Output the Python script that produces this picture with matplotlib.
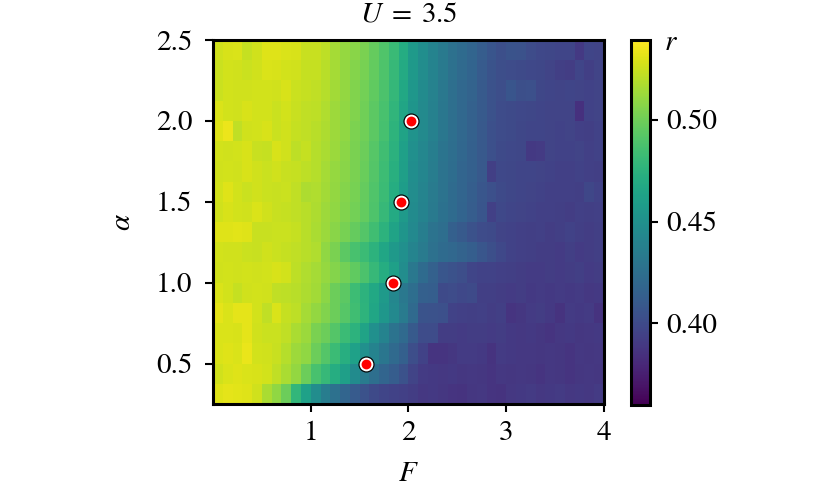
import numpy as np
import matplotlib
matplotlib.use("Agg")
import matplotlib.pyplot as plt

plt.rcParams['font.family'] = ['STIXGeneral', 'DejaVu Serif']
plt.rcParams['mathtext.fontset'] = 'stix'

# grid edges
F_edges = np.linspace(0.0, 4.0, 41)
alpha_edges = np.linspace(0.25, 2.5, 19)

# r values, rows from top (alpha = 2.4375) to bottom (alpha = 0.3125), 40 columns in F
r_rows_top_down = [
    [0.526,0.528,0.529,0.523,0.526,0.530,0.530,0.529,0.528,0.524, 0.524,0.521,0.515,0.511,0.507,0.503,0.497,0.490,0.481,0.470, 0.457,0.448,0.440,0.433,0.426,0.422,0.418,0.412,0.407,0.403, 0.406,0.405,0.401,0.399,0.398,0.397,0.397,0.390,0.397,0.396],
    [0.525,0.527,0.526,0.525,0.526,0.529,0.528,0.527,0.526,0.523, 0.523,0.520,0.515,0.510,0.506,0.502,0.496,0.489,0.480,0.469, 0.456,0.447,0.440,0.433,0.426,0.421,0.417,0.411,0.406,0.402, 0.401,0.400,0.399,0.398,0.396,0.393,0.392,0.397,0.393,0.396],
    [0.525,0.527,0.526,0.526,0.527,0.527,0.526,0.528,0.525,0.523, 0.522,0.519,0.514,0.510,0.505,0.501,0.495,0.488,0.479,0.467, 0.455,0.446,0.439,0.432,0.425,0.420,0.416,0.410,0.405,0.402, 0.407,0.403,0.404,0.398,0.397,0.396,0.397,0.396,0.395,0.396],
    [0.529,0.527,0.526,0.528,0.527,0.527,0.525,0.527,0.524,0.522, 0.521,0.518,0.513,0.509,0.505,0.500,0.494,0.487,0.477,0.465, 0.453,0.445,0.438,0.431,0.425,0.420,0.415,0.410,0.405,0.401, 0.400,0.399,0.398,0.397,0.396,0.396,0.396,0.385,0.395,0.396],
    [0.530,0.534,0.522,0.526,0.527,0.528,0.525,0.526,0.523,0.522, 0.520,0.517,0.513,0.509,0.504,0.500,0.494,0.486,0.476,0.464, 0.452,0.445,0.438,0.431,0.425,0.420,0.415,0.409,0.404,0.401, 0.400,0.398,0.397,0.397,0.396,0.395,0.396,0.394,0.393,0.395],
    [0.527,0.526,0.527,0.528,0.524,0.523,0.528,0.526,0.521,0.523, 0.519,0.516,0.512,0.508,0.503,0.499,0.492,0.484,0.474,0.461, 0.449,0.443,0.436,0.429,0.424,0.419,0.414,0.409,0.404,0.400, 0.399,0.398,0.390,0.391,0.396,0.395,0.395,0.396,0.394,0.395],
    [0.526,0.527,0.526,0.528,0.526,0.525,0.526,0.524,0.523,0.521, 0.519,0.515,0.511,0.507,0.503,0.498,0.491,0.483,0.473,0.460, 0.448,0.442,0.435,0.428,0.423,0.418,0.414,0.409,0.393,0.399, 0.398,0.397,0.397,0.396,0.395,0.394,0.394,0.395,0.394,0.393],
    [0.527,0.530,0.527,0.525,0.526,0.525,0.524,0.525,0.522,0.517, 0.518,0.514,0.510,0.506,0.502,0.497,0.490,0.482,0.471,0.459, 0.447,0.441,0.434,0.428,0.422,0.418,0.413,0.408,0.404,0.400, 0.398,0.397,0.396,0.395,0.394,0.394,0.394,0.393,0.398,0.395],
    [0.526,0.528,0.527,0.526,0.529,0.526,0.524,0.523,0.522,0.520, 0.517,0.513,0.509,0.505,0.501,0.496,0.489,0.480,0.469,0.457, 0.446,0.440,0.433,0.427,0.422,0.417,0.412,0.407,0.394,0.399, 0.397,0.396,0.395,0.394,0.394,0.393,0.392,0.394,0.393,0.394],
    [0.530,0.530,0.531,0.530,0.524,0.524,0.525,0.525,0.523,0.520, 0.516,0.512,0.507,0.502,0.497,0.491,0.484,0.475,0.464,0.453, 0.444,0.436,0.428,0.424,0.414,0.410,0.405,0.401,0.400,0.396, 0.395,0.394,0.393,0.394,0.392,0.393,0.395,0.393,0.392,0.393],
    [0.527,0.526,0.526,0.525,0.524,0.526,0.525,0.523,0.522,0.520, 0.518,0.509,0.503,0.494,0.487,0.482,0.475,0.466,0.456,0.449, 0.441,0.434,0.426,0.422,0.420,0.416,0.413,0.408,0.403,0.399, 0.395,0.394,0.393,0.392,0.392,0.391,0.393,0.391,0.392,0.393],
    [0.526,0.527,0.526,0.527,0.526,0.527,0.528,0.527,0.521,0.518, 0.515,0.511,0.506,0.501,0.495,0.488,0.480,0.471,0.461,0.447, 0.432,0.422,0.415,0.408,0.405,0.402,0.397,0.395,0.395,0.394, 0.393,0.392,0.391,0.391,0.392,0.391,0.392,0.393,0.391,0.392],
    [0.529,0.527,0.523,0.526,0.527,0.526,0.522,0.521,0.520,0.517, 0.514,0.508,0.499,0.494,0.483,0.475,0.467,0.457,0.443,0.432, 0.424,0.414,0.413,0.400,0.401,0.399,0.400,0.393,0.393,0.392, 0.391,0.392,0.390,0.391,0.390,0.391,0.390,0.391,0.389,0.390],
    [0.532,0.529,0.532,0.532,0.527,0.522,0.529,0.523,0.521,0.515, 0.510,0.505,0.499,0.492,0.484,0.476,0.466,0.455,0.444,0.434, 0.421,0.406,0.405,0.404,0.395,0.394,0.393,0.394,0.392,0.393, 0.387,0.388,0.391,0.392,0.390,0.386,0.391,0.390,0.391,0.386],
    [0.529,0.529,0.528,0.532,0.526,0.525,0.525,0.522,0.516,0.512, 0.503,0.499,0.491,0.482,0.475,0.464,0.449,0.440,0.428,0.421, 0.410,0.401,0.401,0.392,0.392,0.391,0.392,0.392,0.391,0.392, 0.390,0.389,0.390,0.388,0.387,0.389,0.390,0.388,0.389,0.390],
    [0.529,0.530,0.529,0.533,0.527,0.526,0.524,0.519,0.513,0.509, 0.499,0.491,0.482,0.472,0.462,0.449,0.440,0.430,0.421,0.414, 0.402,0.395,0.387,0.387,0.388,0.391,0.391,0.390,0.386,0.391, 0.390,0.389,0.389,0.388,0.389,0.388,0.387,0.389,0.388,0.389],
    [0.526,0.529,0.530,0.529,0.528,0.527,0.522,0.516,0.510,0.499, 0.487,0.480,0.471,0.460,0.446,0.434,0.425,0.418,0.412,0.405, 0.396,0.391,0.390,0.389,0.390,0.388,0.389,0.388,0.387,0.389, 0.388,0.389,0.388,0.387,0.389,0.388,0.387,0.388,0.389,0.388],
    [0.530,0.532,0.531,0.530,0.526,0.516,0.509,0.499,0.478,0.462, 0.447,0.435,0.426,0.418,0.411,0.405,0.400,0.397,0.395,0.394, 0.392,0.389,0.390,0.388,0.387,0.386,0.388,0.389,0.387,0.386, 0.389,0.390,0.391,0.389,0.390,0.391,0.389,0.390,0.389,0.391],
]

# critical points
F_crit = [1.565, 1.84, 1.92, 2.03]
alpha_crit = [0.5, 1.0, 1.5, 2.0]

x_ticks = [1, 2, 3, 4]
y_ticks = [0.5, 1.0, 1.5, 2.0, 2.5]
cbar_ticks = [0.40, 0.45, 0.50]
vmin, vmax = 0.360, 0.539

r_grid = np.array(r_rows_top_down)[::-1]

FS = 21
fig = plt.figure(figsize=(8.3, 4.88), dpi=100)
ax = fig.add_axes([0.2566, 0.172, 0.4711, 0.746])
mesh = ax.pcolormesh(F_edges, alpha_edges, r_grid, cmap='viridis',
                     vmin=vmin, vmax=vmax, shading='flat')
ax.scatter(F_crit, alpha_crit, s=135, color='black', zorder=3, linewidths=0)
ax.scatter(F_crit, alpha_crit, s=72, color='red', edgecolors='white',
           linewidths=1.4, zorder=4)

ax.set_xlim(0, 4)
ax.set_ylim(0.25, 2.5)
ax.set_xticks(x_ticks)
ax.set_xticklabels([str(t) for t in x_ticks])
ax.set_yticks(y_ticks)
ax.set_yticklabels([f"{t:.1f}" for t in y_ticks])
ax.tick_params(axis='both', labelsize=FS, width=1.5, length=5.8, direction='out')
ax.tick_params(axis='x', pad=6)
ax.tick_params(axis='y', pad=9)
for sp in ax.spines.values():
    sp.set_linewidth(2.2)
ax.set_xlabel(r'$F$', fontsize=FS, labelpad=12)
ax.set_ylabel(r'$\alpha$', fontsize=FS, labelpad=14)
ax.set_title(r'$U\;=\;3.5$', fontsize=FS, pad=13)

cax = fig.add_axes([0.7602, 0.170, 0.0229, 0.748])
cb = fig.colorbar(mesh, cax=cax)
cb.set_ticks(cbar_ticks)
cb.set_ticklabels([f"{t:.2f}" for t in cbar_ticks])
cb.ax.tick_params(labelsize=FS, width=1.5, length=5.8, pad=6)
cb.outline.set_linewidth(2.2)
cax.text(1.75, 0.973, r'$r$', transform=cax.transAxes, fontsize=FS,
         ha='left', va='baseline')

fig.savefig('out.png', dpi=100)
